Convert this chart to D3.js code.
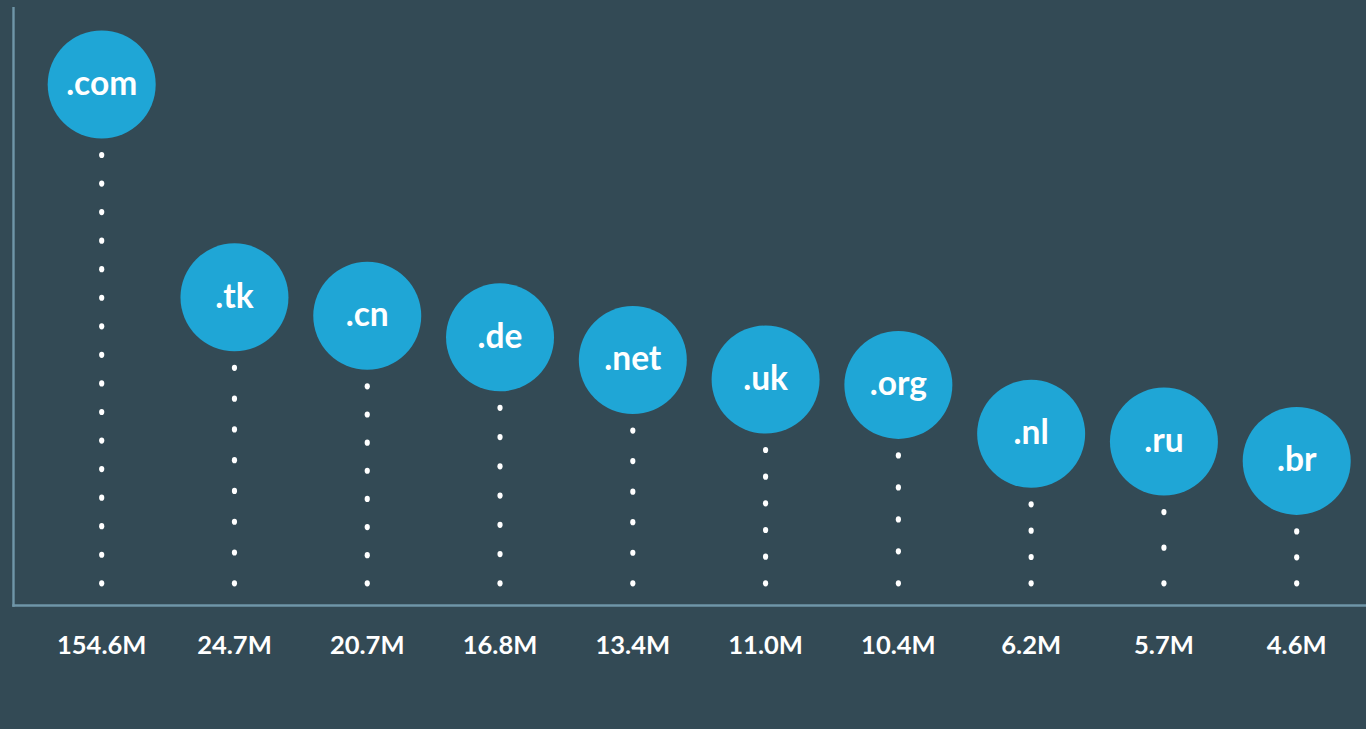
<!DOCTYPE html>
<html>
<head>
<meta charset="utf-8">
<script src="https://cdn.jsdelivr.net/npm/d3@7/dist/d3.min.js"></script>
<style>
  html, body { margin: 0; padding: 0; background: #334a55; overflow: hidden; }
  svg { display: block; }
  text { font-family: Lato, "Noto Sans", sans-serif; font-weight: 700; }
</style>
</head>
<body>
<svg id="chart" width="1366" height="729"></svg>
<script>
// Data
const tlds = [".com", ".tk", ".cn", ".de", ".net", ".uk", ".org", ".nl", ".ru", ".br"];
const domainsMillions = [154.6, 24.7, 20.7, 16.8, 13.4, 11.0, 10.4, 6.2, 5.7, 4.6];
const valueLabels = ["154.6M", "24.7M", "20.7M", "16.8M", "13.4M", "11.0M", "10.4M", "6.2M", "5.7M", "4.6M"];

const W = 1366, H = 729;
const axisX = 13.5, baseY = 605.5, axisTop = 7;
const R = 54;

const svg = d3.select("#chart");
svg.append("rect").attr("width", W).attr("height", H).attr("fill", "#334a55");

const x = d3.scalePoint().domain(tlds).range([35.3, 1363.1]).padding(0.5);
const y = d3.scalePow().exponent(0.1).domain([0.788, 154.6]).range([baseY, 84.5]);

const data = tlds.map((t, i) => ({ tld: t, v: domainsMillions[i], label: valueLabels[i] }));

// axes
svg.append("line").attr("x1", axisX).attr("x2", axisX).attr("y1", axisTop).attr("y2", baseY + 1.2)
  .attr("stroke", "#6f96a8").attr("stroke-width", 2.4);
svg.append("line").attr("x1", axisX - 1.2).attr("x2", W).attr("y1", baseY).attr("y2", baseY)
  .attr("stroke", "#6f96a8").attr("stroke-width", 2.4);

// dotted stems
const dotBottom = baseY - 22.2;
const g = svg.append("g");
data.forEach(d => {
  const cx = x(d.tld), cy = y(d.v);
  const top = cy + R + 16.5;
  const len = dotBottom - top;
  const n = Math.max(1, Math.round(len / 29.3));
  const step = len / n;
  g.selectAll(null).data(d3.range(n + 1)).enter().append("ellipse")
    .attr("cx", cx).attr("cy", k => dotBottom - k * step)
    .attr("rx", 2.6).attr("ry", 3.1).attr("fill", "#ffffff");
});

// circles
const nodes = svg.append("g").selectAll("g").data(data).enter().append("g")
  .attr("transform", d => `translate(${x(d.tld)},${y(d.v)})`);
nodes.append("circle").attr("r", R).attr("fill", "#1fa6d6");
nodes.append("text").attr("text-anchor", "middle").attr("y", 10.4)
  .attr("fill", "#ffffff").attr("font-size", 33.5).text(d => d.tld);

// value labels
svg.append("g").selectAll("text").data(data).enter().append("text")
  .attr("x", d => x(d.tld)).attr("y", 653.5).attr("text-anchor", "middle")
  .attr("fill", "#ffffff").attr("font-size", 25.5).text(d => d.label);
</script>
</body>
</html>
